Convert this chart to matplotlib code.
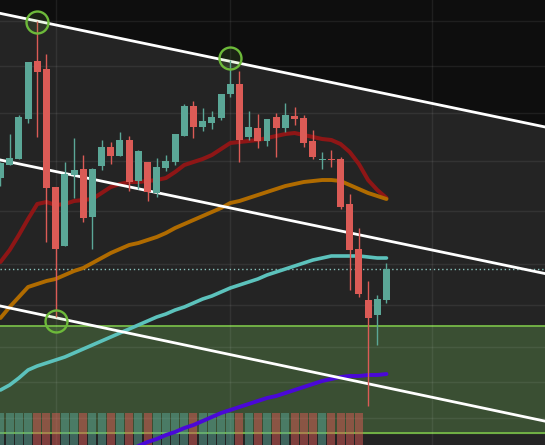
import numpy as np
import matplotlib
matplotlib.use("Agg")
import matplotlib.pyplot as plt

# Candles (price units = pixels from the bottom), colour 1 = up, 0 = down
c_open  = [267, 280, 286, 326, 384, 376, 258, 199, 270, 276, 228, 279, 298, 289, 305, 264, 283, 252, 277, 283,
           309, 339, 318, 322, 327, 351, 361, 308, 317, 304, 328, 317, 329, 327, 304, 285, 286, 286, 241, 196,
           145, 130, 145]
c_high  = [283, 311, 330, 383, 424, 391, 258, 283, 307, 290, 277, 305, 303, 313, 309, 295, 283, 287, 290, 311,
           341, 344, 337, 334, 351, 385, 374, 334, 331, 326, 332, 342, 338, 330, 315, 293, 295, 288, 251, 217,
           164, 150, 182]
c_low   = [259, 280, 286, 322, 308, 203, 128, 199, 247, 223, 196, 275, 281, 289, 254, 256, 244, 248, 274, 280,
           309, 307, 314, 316, 325, 348, 283, 305, 297, 299, 288, 313, 320, 298, 286, 276, 278, 236, 155, 148,
           39, 100, 142]
c_close = [282, 287, 328, 383, 373, 257, 196, 271, 275, 227, 276, 298, 289, 305, 263, 294, 253, 278, 284, 311,
           339, 318, 324, 328, 351, 361, 305, 318, 304, 326, 317, 330, 326, 302, 288, 286, 285, 238, 195, 151,
           127, 146, 176]
c_up    = [1, 1, 1, 1, 0, 0, 0, 1, 1, 0, 1, 1, 0, 1, 0, 1, 0, 1, 1, 1,
           1, 0, 1, 1, 1, 1, 0, 1, 0, 1, 0, 1, 0, 0, 0, 1, 0, 0, 0, 0,
           0, 1, 1]

# Volume pane: every bar reaches the same (clipped) height, only the first 40 drawn
volume = [32] * 40

# Moving averages, one value per candle
ma_red = [183, 195, 210, 226, 241, 243, 240, 241, 244, 245, 246, 252, 258, 261, 263, 263, 264, 265, 267, 273,
          280, 283, 286, 290, 296, 302, 303, 304, 305, 307, 309, 311, 312, 310, 308, 306, 305, 301, 293, 281,
          265, 255, 247]
ma_orange = [127, 138, 148, 158, 161, 164, 166, 170, 174, 177, 182, 187, 192, 196, 200, 202, 205, 208, 212, 217,
             221, 225, 229, 233, 237, 242, 244, 247, 250, 253, 256, 259, 261, 263, 264, 265, 265, 264, 260, 256,
             252, 249, 246]
ma_teal = [55, 60, 67, 75, 79, 82, 85, 88, 92, 96, 100, 104, 108, 112, 116, 120, 124, 128, 131, 135,
           138, 142, 146, 149, 153, 157, 160, 163, 166, 170, 173, 176, 179, 182, 185, 187, 189, 189, 189, 189,
           188, 187, 187]
ma_purple_start = 14
ma_purple = [-4, -1, 3, 6, 10, 13, 17, 20, 24, 28, 32, 35, 38, 41, 44, 47, 49, 52, 55, 58,
             61, 64, 66, 68, 69, 69, 70, 70, 71]

# Trend channel (drawn through pivot highs / lows), support zone, markers
chan_x = [-1, 60]
chan_top = [433.5, 316.6]
chan_mid = [286.9, 170.0]
chan_low = [140.9, 22.4]
zone_low, zone_high = 12, 119
level_dotted = 176
circle_idx = [4, 25, 6]
circle_val = [423, 387, 124.5]
grid_h = [424, 379, 332, 284, 234, 181, 140, 98, 63, 27]
grid_v = [6, 25, 47]

UP = '#5ba797'
DOWN = '#db5b56'

fig = plt.figure(figsize=(5.45, 4.45), dpi=100)
ax = fig.add_axes([0, 0, 1, 1])
ax.set_facecolor('#242424')
ax.set_xlim(-0.054, 59.25)
ax.set_ylim(0, 445)
ax.axis('off')

# dark area above the channel, green support zone
ax.fill_between(chan_x, chan_top, 445, color='#0e0e0e', zorder=0)
ax.axhspan(zone_low, zone_high, color='#3a4f33', zorder=0.5)
ax.axhline(zone_low, color='#76b947', lw=1.3, zorder=1)
ax.axhline(zone_high, color='#76b947', lw=1.3, zorder=1)

# grid
for g in grid_h:
    ax.axhline(g, color='white', alpha=0.07, lw=1, zorder=1)
for g in grid_v:
    ax.axvline(g, color='white', alpha=0.07, lw=1, zorder=1)
ax.axhline(level_dotted, color='#8ac2bc', lw=1, ls=(0, (1, 2)), zorder=2)

# volume
xs = np.arange(len(c_open))
vcol = [UP if c_up[i] else DOWN for i in range(len(volume))]
ax.bar(xs[:len(volume)], volume, width=0.87, bottom=0, color=vcol, alpha=0.5, zorder=2)

# moving averages (orange drawn over red where they meet)
ax.plot(xs, ma_teal, color='#5cc2bc', lw=2.6, solid_capstyle='round', zorder=3)
ax.plot(xs, ma_red, color='#8e1616', lw=2.9, solid_capstyle='round', zorder=3)
ax.plot(xs, ma_orange, color='#b06b00', lw=2.8, solid_capstyle='round', zorder=3)
px = np.arange(ma_purple_start, ma_purple_start + len(ma_purple))
ax.plot(px, ma_purple, color='#4a08d8', lw=2.8, solid_capstyle='round', zorder=3)

# channel lines
for line in (chan_top, chan_mid, chan_low):
    ax.plot(chan_x, line, color='white', lw=2, zorder=4)

# candles
for i in xs:
    col = UP if c_up[i] else DOWN
    ax.vlines(i, c_low[i], c_high[i], color=col, lw=1, zorder=5)
    lo = min(c_open[i], c_close[i])
    h = max(abs(c_close[i] - c_open[i]), 1)
    ax.bar(i, h, width=0.76, bottom=lo, color=col, zorder=6)

# pivot markers
ax.scatter(circle_idx, circle_val, s=250, facecolor=(0.45, 0.75, 0.25, 0.12),
           edgecolor='#6dba3a', linewidth=1.7, zorder=7)

fig.savefig('out.png', dpi=100, facecolor='#242424')
